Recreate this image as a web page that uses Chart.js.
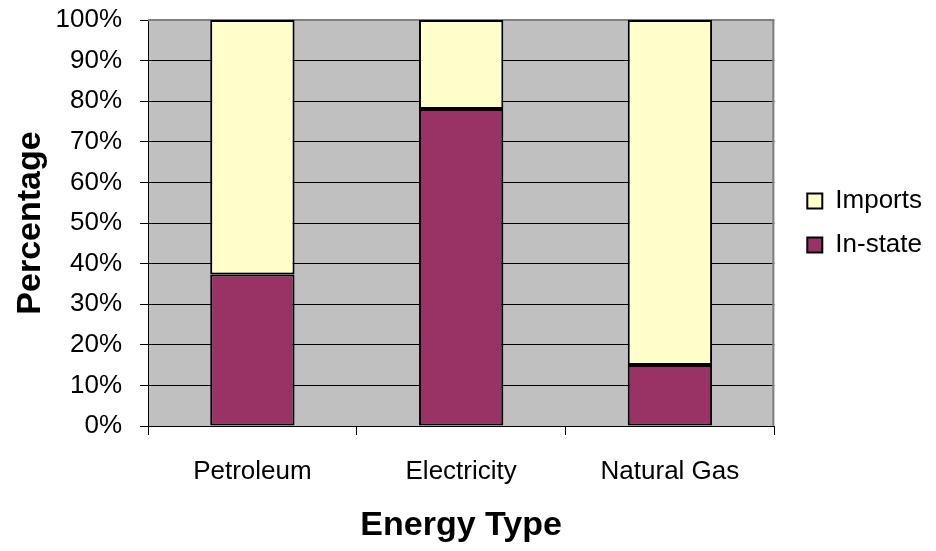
<!DOCTYPE html>
<html>
<head>
<meta charset="utf-8">
<script src="https://cdn.jsdelivr.net/npm/chart.js@4/dist/chart.umd.min.js"></script>
<style>
  html, body { margin: 0; padding: 0; background: #ffffff; }
  #wrap { width: 936px; height: 551px; }
</style>
</head>
<body>
<div id="wrap"><canvas id="c" width="936" height="551"></canvas></div>
<script>
const categories = ["Petroleum", "Electricity", "Natural Gas"];
const inState = [37.3, 78.1, 15.0];
const imports = [62.7, 21.9, 85.0];
const yTicks = [0, 10, 20, 30, 40, 50, 60, 70, 80, 90, 100];

const FONT = "'Liberation Sans', Arial, Helvetica, sans-serif";

const plotBg = {
  id: 'plotBg',
  afterLayout(chart) {
    const lg = chart.legend;
    if (lg) {
      lg.left += 15;
      lg.right += 15;
      lg.bottom -= 125;
      lg.height -= 125;
    }
  },
  beforeDraw(chart) {
    const {ctx, chartArea: a} = chart;
    ctx.save();
    ctx.fillStyle = '#C0C0C0';
    ctx.fillRect(a.left, a.top, a.right - a.left, a.bottom - a.top);
    ctx.restore();
  },
  beforeDatasetsDraw(chart) {
    const {ctx, chartArea: a} = chart;
    ctx.save();
    ctx.strokeStyle = '#808080';
    ctx.lineWidth = 2;
    ctx.beginPath();
    ctx.moveTo(a.left, a.top);
    ctx.lineTo(a.right - 1, a.top);
    ctx.lineTo(a.right - 1, a.bottom);
    ctx.stroke();
    ctx.restore();
  }
};

new Chart(document.getElementById('c'), {
  type: 'bar',
  data: {
    labels: categories,
    datasets: [
      {
        label: 'In-state',
        data: inState,
        backgroundColor: '#993366',
        borderColor: '#000000',
        borderWidth: 2,
        borderSkipped: false,
        barPercentage: 1.0,
        categoryPercentage: 0.404
      },
      {
        label: 'Imports',
        data: imports,
        backgroundColor: '#FFFFCC',
        borderColor: '#000000',
        borderWidth: 2,
        borderSkipped: false,
        barPercentage: 1.0,
        categoryPercentage: 0.404
      }
    ]
  },
  options: {
    responsive: false,
    animation: false,
    devicePixelRatio: 1,
    layout: { padding: { top: 20, right: 19, bottom: 0, left: 0 } },
    plugins: {
      legend: {
        position: 'right',
        reverse: true,
        labels: {
          color: '#000000',
          font: { family: FONT, size: 26 },
          boxWidth: 15,
          boxHeight: 15,
          padding: 18
        }
      },
      tooltip: { enabled: false },
      title: { display: false }
    },
    scales: {
      x: {
        stacked: true,
        afterFit(s) { s.height = 125; s.paddingLeft = 0; s.paddingRight = 0; },
        grid: {
          offset: true,
          drawOnChartArea: false,
          drawTicks: true,
          tickLength: 9,
          color: '#000000'
        },
        border: { color: '#000000', width: 1 },
        ticks: {
          color: '#000000',
          font: { family: FONT, size: 26 },
          padding: 21
        },
        title: {
          display: true,
          text: 'Energy Type',
          color: '#000000',
          font: { family: FONT, size: 34, weight: 'bold' },
          padding: { top: 4, bottom: 5 }
        }
      },
      y: {
        stacked: true,
        min: 0,
        max: 100,
        afterFit(s) { s.width = 148; s.paddingTop = 0; s.paddingBottom = 0; },
        afterBuildTicks(s) { s.ticks = yTicks.map(v => ({ value: v })); },
        grid: {
          color: '#000000',
          lineWidth: 1,
          drawTicks: true,
          tickLength: 8
        },
        border: { color: '#000000', width: 1 },
        ticks: {
          color: '#000000',
          font: { family: FONT, size: 26 },
          padding: 18,
          callback: (v) => v + '%'
        },
        title: {
          display: true,
          text: 'Percentage',
          color: '#000000',
          font: { family: FONT, size: 34, weight: 'bold' },
          padding: { top: 10, bottom: 4 }
        }
      }
    }
  },
  plugins: [plotBg]
});
</script>
</body>
</html>
